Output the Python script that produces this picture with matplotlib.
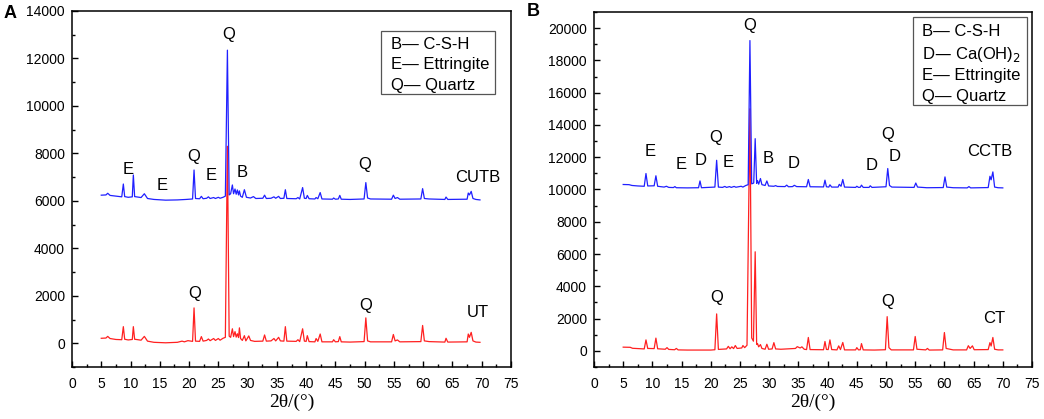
import matplotlib
matplotlib.use("Agg")
import matplotlib.pyplot as plt
from matplotlib.patches import Rectangle
from matplotlib.ticker import MultipleLocator

plt.rcParams["font.family"] = ["Liberation Sans", "DejaVu Sans"]

# panel A, CUTB (offset pattern)
a_cutb_x = [5.0, 5.8, 6.1, 6.5, 7.5, 8.5, 8.77, 9.0, 9.6, 10.3, 10.48, 10.7, 11.8, 12.36, 12.9,
            14.0, 16.0, 18.0, 19.5, 20.6, 20.85, 21.1, 21.8, 22.1, 22.4, 23.0, 23.3, 23.6, 24.2,
            24.5, 25.0, 25.3, 25.8, 26.2, 26.55, 26.85, 27.1, 27.4, 27.6, 27.85, 28.05, 28.25,
            28.45, 28.6, 28.8, 29.1, 29.45, 29.8, 30.5, 31.0, 31.4, 32.6, 32.9, 33.2, 34.0, 34.5,
            34.8, 35.3, 35.6, 36.2, 36.45, 36.7, 38.3, 38.6, 38.9, 39.4, 39.7, 40.0, 40.2, 40.5,
            41.5, 41.7, 42.0, 42.4, 42.7, 44.5, 44.7, 45.0, 45.5, 45.75, 46.0, 47.5, 49.9, 50.2,
            50.5, 51.0, 54.6, 54.9, 55.2, 55.6, 56.0, 59.6, 59.9, 60.2, 61.0, 63.7, 63.9, 64.2,
            67.5, 67.7, 67.9, 68.2, 68.5, 69.0, 69.7]
a_cutb_y = [6240, 6250, 6320, 6230, 6200, 6170, 6710, 6180, 6150, 6170, 7090, 6180, 6140, 6300, 6100,
            6060, 6030, 6040, 6060, 6080, 7300, 6100, 6090, 6190, 6090, 6110, 6170, 6100, 6140,
            6100, 6150, 6110, 6150, 6200, 12350, 6250, 6300, 6670, 6300, 6500, 6280, 6460,
            6250, 6420, 6200, 6150, 6470, 6150, 6120, 6180, 6100, 6110, 6240, 6100, 6110, 6170,
            6110, 6190, 6100, 6110, 6470, 6100, 6090, 6140, 6080, 6560, 6110, 6100, 6230, 6090,
            6080, 6140, 6090, 6350, 6080, 6070, 6120, 6070, 6080, 6230, 6070, 6060, 6080, 6770,
            6120, 6080, 6070, 6240, 6100, 6140, 6070, 6080, 6515, 6100, 6080, 6060, 6160, 6060,
            6070, 6330, 6250, 6400, 6100, 6060, 6040]

# panel A, UT
a_ut_x = [5.0, 5.8, 6.1, 6.5, 7.5, 8.5, 8.77, 9.0, 9.6, 10.3, 10.48, 10.7, 11.8, 12.36, 12.9,
          14.0, 16.0, 18.0, 18.8, 19.2, 19.8, 20.6, 20.85, 21.1, 21.8, 22.1, 22.4, 23.0, 23.3,
          23.6, 24.2, 24.5, 25.0, 25.3, 25.8, 26.2, 26.55, 26.85, 27.1, 27.4, 27.6, 27.85, 28.05,
          28.25, 28.45, 28.6, 28.8, 29.1, 29.45, 29.7, 30.2, 30.5, 31.2, 32.6, 32.9, 33.2, 34.0,
          34.5, 34.8, 35.3, 35.6, 36.2, 36.45, 36.7, 38.3, 38.6, 38.9, 39.4, 39.7, 40.0, 40.2,
          40.5, 41.5, 41.7, 42.0, 42.4, 42.7, 44.5, 44.7, 45.0, 45.5, 45.75, 46.0, 47.5, 49.9,
          50.2, 50.5, 51.0, 54.6, 54.9, 55.2, 55.6, 56.0, 59.6, 59.9, 60.2, 61.0, 63.7, 63.9,
          64.2, 67.5, 67.7, 67.9, 68.2, 68.5, 69.0, 69.7]
a_ut_y = [210, 220, 290, 200, 160, 150, 700, 170, 140, 160, 700, 170, 130, 290, 90,
          40, 20, 40, 90, 60, 110, 80, 1490, 90, 80, 280, 90, 120, 180,
          110, 200, 120, 200, 130, 210, 250, 8300, 300, 250, 610, 280, 490, 260,
          400, 240, 650, 200, 120, 320, 100, 310, 120, 80, 90, 350, 90, 100,
          200, 100, 250, 100, 90, 700, 90, 80, 150, 70, 610, 90, 80, 320,
          70, 60, 200, 80, 390, 60, 60, 150, 60, 70, 280, 60, 50, 70,
          1070, 100, 60, 60, 370, 100, 140, 60, 70, 750, 100, 70, 50, 210,
          50, 60, 390, 250, 460, 100, 50, 40]

# panel B, CCTB (offset pattern)
b_cctb_x = [5.0, 6.0, 6.5, 7.5, 8.6, 8.9, 9.2, 10.3, 10.6, 10.9, 12.0, 12.4, 12.8, 13.6, 13.85,
            14.1, 16.0, 17.9, 18.15, 18.4, 20.7, 21.0, 21.3, 22.0, 22.4, 22.7, 23.2, 23.5, 24.0,
            24.3, 25.2, 25.5, 26.0, 26.4, 26.7, 27.0, 27.35, 27.6, 27.85, 28.0, 28.2, 28.5, 28.75,
            29.3, 29.6, 29.9, 30.8, 31.1, 31.4, 32.7, 33.0, 33.3, 34.0, 34.3, 34.7, 36.4, 36.7,
            37.0, 39.3, 39.55, 39.8, 40.2, 40.4, 40.7, 41.8, 42.0, 42.3, 42.6, 42.9, 44.8, 45.0,
            45.3, 45.6, 45.8, 46.1, 47.1, 47.3, 47.6, 50.0, 50.3, 50.6, 51.0, 54.8, 55.1, 55.4,
            57.0, 59.8, 60.1, 60.4, 61.5, 63.9, 64.2, 64.5, 67.5, 67.8, 68.0, 68.3, 68.6, 69.2, 70.0]
b_cctb_y = [10310, 10300, 10250, 10220, 10200, 10990, 10220, 10230, 10850, 10200, 10150, 10200, 10130, 10120, 10180,
            10110, 10100, 10110, 10530, 10110, 10150, 11810, 10150, 10130, 10190, 10130, 10180, 10130, 10190,
            10140, 10200, 10150, 10250, 10300, 19230, 10350, 10400, 13150, 10380, 10550, 10330, 10680, 10300,
            10250, 10530, 10220, 10200, 10240, 10190, 10180, 10270, 10170, 10180, 10260, 10180, 10170, 10620,
            10170, 10160, 10580, 10170, 10150, 10290, 10150, 10150, 10320, 10200, 10620, 10150, 10130, 10200,
            10130, 10140, 10270, 10130, 10130, 10230, 10130, 10170, 11300, 10250, 10150, 10130, 10400, 10150,
            10110, 10120, 10780, 10150, 10110, 10100, 10180, 10100, 10120, 10820, 10600, 11090, 10150, 10110, 10100]

# panel B, CT
b_ct_x = [5.0, 6.2, 6.6, 8.6, 8.9, 9.2, 10.3, 10.6, 10.9, 12.2, 12.5, 12.8, 13.8, 14.1, 14.4,
          16.0, 20.0, 20.7, 21.0, 21.3, 22.7, 23.0, 23.3, 23.6, 23.9, 24.2, 24.5, 25.3, 25.5,
          25.8, 26.2, 26.7, 27.0, 27.3, 27.6, 27.85, 28.0, 28.2, 28.5, 28.75, 29.3, 29.6, 29.9,
          30.5, 30.8, 31.1, 32.0, 34.5, 34.8, 35.3, 35.6, 36.0, 36.4, 36.7, 37.0, 39.3, 39.55,
          39.8, 40.1, 40.4, 40.7, 41.6, 41.9, 42.2, 42.6, 42.9, 44.8, 45.0, 45.3, 45.6, 45.8,
          46.1, 48.0, 49.9, 50.2, 50.5, 50.9, 54.7, 55.0, 55.3, 56.8, 57.1, 57.4, 59.7, 60.0,
          60.3, 61.5, 63.8, 64.1, 64.4, 64.8, 65.1, 67.5, 67.8, 68.0, 68.3, 68.6, 69.2, 70.0]
b_ct_y = [230, 220, 160, 120, 680, 150, 140, 790, 130, 100, 200, 90, 70, 150, 60,
          50, 50, 70, 2290, 90, 120, 280, 130, 250, 140, 330, 150, 180, 330,
          200, 350, 15000, 800, 600, 6140, 400, 450, 250, 390, 150, 100, 410, 100,
          120, 510, 120, 100, 150, 260, 180, 250, 100, 80, 830, 80, 70, 580,
          90, 80, 680, 80, 60, 310, 80, 520, 60, 60, 200, 60, 70, 450,
          60, 50, 70, 2120, 200, 60, 60, 890, 100, 60, 150, 50, 60, 1135,
          150, 60, 60, 320, 150, 310, 70, 80, 510, 300, 830, 100, 60, 60]

# peak letters: (text, x, y)
a_labels = [("E", 9.6, 7330), ("E", 15.4, 6630), ("Q", 20.8, 7880), ("E", 23.7, 7050),
            ("B", 29.0, 7180), ("Q", 26.7, 13020), ("Q", 50.0, 7530), ("CUTB", 69.3, 6995),
            ("Q", 21.0, 2085), ("Q", 50.2, 1590), ("UT", 69.3, 1310)]
b_labels = [("E", 9.7, 12330), ("E", 15.0, 11560), ("D", 18.3, 11770), ("Q", 20.9, 13250),
            ("E", 23.0, 11650), ("Q", 26.7, 20160), ("B", 29.8, 11920), ("D", 34.2, 11610),
            ("D", 47.5, 11500), ("Q", 50.3, 13400), ("D", 51.5, 12020), ("CCTB", 67.8, 12370),
            ("Q", 21.0, 3300), ("Q", 50.3, 3050), ("CT", 68.5, 2020)]

a_legend = ["B\u2014 C-S-H", "E\u2014 Ettringite", "Q\u2014 Quartz"]
b_legend = ["B\u2014 C-S-H", "D\u2014 Ca(OH)$_2$", "E\u2014 Ettringite", "Q\u2014 Quartz"]

x_ticks = list(range(0, 80, 5))


def draw_panel(ax, top_x, top_y, bot_x, bot_y, labels, legend, box, text_ys, ymax):
    ax.plot(bot_x, bot_y, color="#ff2020", lw=0.9)
    ax.plot(top_x, top_y, color="#2020ff", lw=0.9)

    for txt, x, y in labels:
        ax.text(x, y, txt, ha="center", va="center", fontsize=12)

    x0, y0, x1, y1 = box
    ax.add_patch(Rectangle((x0, y0), x1 - x0, y1 - y0, transform=ax.transAxes,
                           fill=False, edgecolor="#555555", lw=0.9))
    for txt, ty in zip(legend, text_ys):
        ax.text(x0 + 0.022, ty, txt, transform=ax.transAxes, ha="left", va="center",
                fontsize=12)

    ax.set_xlim(0, 75)
    ax.set_ylim(-1000, ymax)
    ax.set_xticks(x_ticks)
    ax.xaxis.set_minor_locator(MultipleLocator(2.5))
    ax.yaxis.set_major_locator(MultipleLocator(2000))
    ax.yaxis.set_minor_locator(MultipleLocator(1000))
    ax.tick_params(which="both", direction="in", labelsize=10, top=False, right=False)
    ax.tick_params(which="major", length=4, width=1, pad=5)
    ax.tick_params(axis="x", which="major", pad=7)
    ax.tick_params(which="minor", length=2.5, width=1)
    for sp in ax.spines.values():
        sp.set_linewidth(1.1)
    ax.set_xlabel("2\u03b8/(\u00b0)", family=["Liberation Serif", "DejaVu Serif"],
                  fontsize=14, labelpad=2)


fig = plt.figure(figsize=(10.44, 4.19), dpi=100)
ax_a = fig.add_axes([72 / 1044, 52 / 419, 439 / 1044, 356 / 419])
ax_b = fig.add_axes([594 / 1044, 52 / 419, 438 / 1044, 355 / 419])

draw_panel(ax_a, a_cutb_x, a_cutb_y, a_ut_x, a_ut_y, a_labels, a_legend,
           (0.704, 0.767, 0.964, 0.944), [0.907, 0.851, 0.792], 14000)
draw_panel(ax_b, b_cctb_x, b_cctb_y, b_ct_x, b_ct_y, b_labels, b_legend,
           (0.728, 0.738, 0.989, 0.986), [0.946, 0.879, 0.820, 0.761], 21000)

fig.text(10 / 1044, 1 - 13 / 419, "A", fontsize=13, fontweight="bold", ha="center", va="center")
fig.text(533 / 1044, 1 - 12 / 419, "B", fontsize=13, fontweight="bold", ha="center", va="center")

fig.savefig("out.png", dpi=100)
